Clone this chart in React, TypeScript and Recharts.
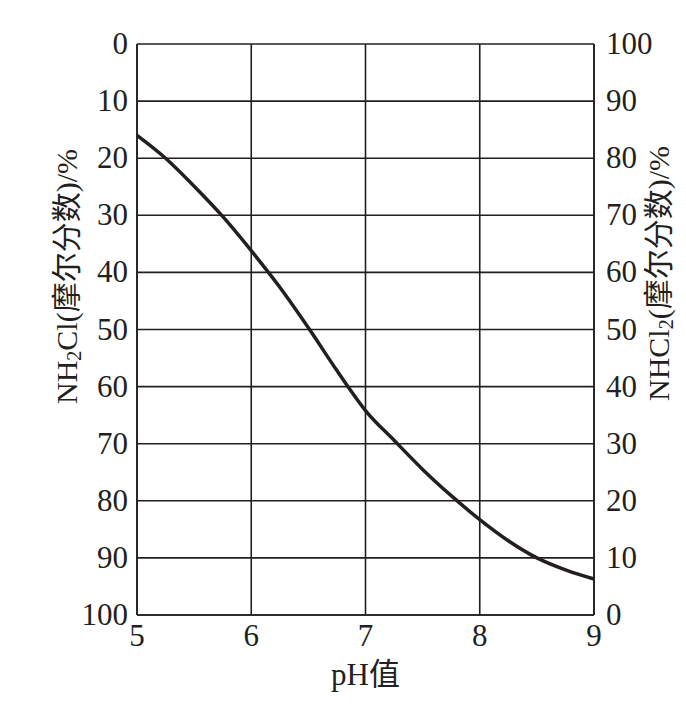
import React from "react";
import { LineChart, Line, XAxis, YAxis, CartesianGrid } from "recharts";

const phValues = [5, 5.25, 5.5, 5.75, 6, 6.25, 6.5, 6.75, 6.85, 7, 7.25, 7.5, 7.75, 8, 8.25, 8.5, 8.75, 9];
const nh2clValues = [16, 20, 24.9, 30.2, 36.2, 42.6, 49.7, 57.2, 60.1, 64.2, 69.4, 74.5, 79.1, 83.3, 87, 90, 92.1, 93.7];
const xTicks = [5, 6, 7, 8, 9];
const yTicks = [0, 10, 20, 30, 40, 50, 60, 70, 80, 90, 100];
const xLabel = "pH值";
const leftLabelParts = ["NH", "2", "Cl(摩尔分数)/%"];
const rightLabelParts = ["NHCl", "2", "(摩尔分数)/%"];

const data = phValues.map((ph, i) => ({ ph, nh2cl: nh2clValues[i], nhcl2: 100 - nh2clValues[i] }));

const FONT = "Liberation Serif, Noto Sans CJK SC, serif";
const INK = "#231f20";
const TICK_SIZE = 31;

const VLabel = ({ viewBox, parts, dx, dy }: any) => {
  const { x, y, height } = viewBox;
  const cx = x + dx;
  const cy = y + height / 2 + dy;
  return (
    <text
      x={cx}
      y={cy}
      transform={`rotate(-90, ${cx}, ${cy})`}
      textAnchor="middle"
      dominantBaseline="central"
      fontFamily={FONT}
      style={{ fontSize: 30, fontFamily: FONT }}
      fill={INK}
    >
      <tspan>{parts[0]}</tspan>
      <tspan style={{ fontSize: 20 }} dy={8}>{parts[1]}</tspan>
      <tspan dy={-8}>{parts[2]}</tspan>
    </text>
  );
};

const XTick = ({ x, y, payload }: any) => (
  <text x={x} y={y + 19} textAnchor="middle" fill={INK} style={{ fontSize: TICK_SIZE, fontFamily: FONT }}>
    {payload.value}
  </text>
);

const LeftTick = ({ x, y, payload }: any) => (
  <text x={x + 3} y={y + 10} textAnchor="end" fill={INK} style={{ fontSize: TICK_SIZE, fontFamily: FONT }}>
    {payload.value}
  </text>
);

const RightTick = ({ x, y, payload }: any) => (
  <text x={x} y={y + 10} textAnchor="start" fill={INK} style={{ fontSize: TICK_SIZE, fontFamily: FONT }}>
    {payload.value}
  </text>
);

const XLabel = ({ viewBox }: any) => {
  const { x, y, width } = viewBox;
  return (
    <text x={x + width / 2} y={y + 70} textAnchor="middle" fill={INK} style={{ fontSize: 31, fontFamily: FONT }}>
      {xLabel}
    </text>
  );
};

export default function App() {
  return (
    <LineChart
      width={670}
      height={692}
      data={data}
      margin={{ top: 36, right: 24, bottom: 25, left: 69 }}
    >
      <CartesianGrid yAxisId="left" stroke={INK} strokeWidth={1.6} />
      <XAxis
        dataKey="ph"
        type="number"
        domain={[5, 9]}
        ticks={xTicks}
        height={60}
        tickLine={false}
        axisLine={{ stroke: INK, strokeWidth: 1.6 }}
        tickMargin={6}
        tick={<XTick />}
        label={(props: any) => <XLabel {...props} />}
      />
      <YAxis
        yAxisId="left"
        reversed
        domain={[0, 100]}
        ticks={yTicks}
        width={60}
        tickLine={false}
        axisLine={{ stroke: INK, strokeWidth: 1.6 }}
        tickMargin={6}
        interval={0}
        tick={<LeftTick />}
        label={(props: any) => <VLabel {...props} parts={leftLabelParts} dx={-11} dy={-53} />}
      />
      <YAxis
        yAxisId="right"
        orientation="right"
        domain={[0, 100]}
        ticks={yTicks}
        width={60}
        tickLine={false}
        axisLine={{ stroke: INK, strokeWidth: 1.6 }}
        tickMargin={6}
        interval={0}
        tick={<RightTick />}
        label={(props: any) => <VLabel {...props} parts={rightLabelParts} dx={64} dy={-56} />}
      />
      <Line
        yAxisId="right"
        dataKey="nhcl2"
        type="monotone"
        stroke="none"
        strokeWidth={0}
        dot={false}
        activeDot={false}
        isAnimationActive={false}
      />
      <Line
        yAxisId="left"
        dataKey="nh2cl"
        type="monotone"
        stroke={INK}
        strokeWidth={3.5}
        dot={false}
        isAnimationActive={false}
      />
    </LineChart>
  );
}
